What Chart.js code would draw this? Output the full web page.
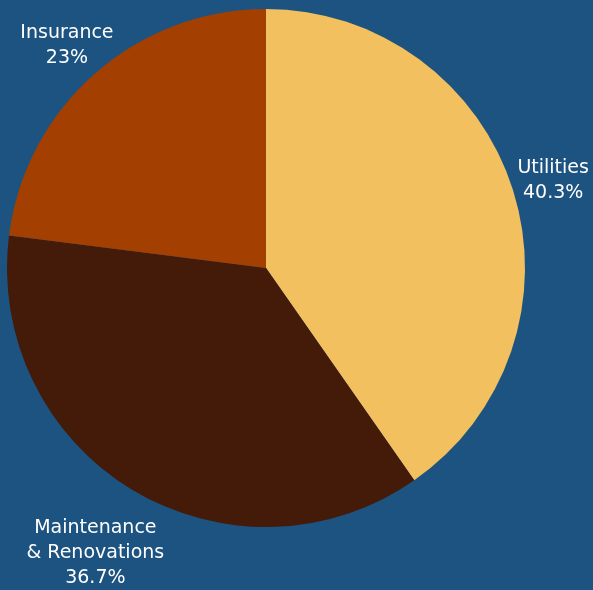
<!DOCTYPE html>
<html>
<head>
<meta charset="utf-8">
<script src="https://cdn.jsdelivr.net/npm/chart.js@4/dist/chart.umd.min.js"></script>
<style>
  html, body { margin: 0; padding: 0; background: #1c5380; }
  #wrap { width: 593px; height: 590px; position: relative; }
</style>
</head>
<body>
<div id="wrap"><canvas id="pieChart"></canvas></div>
<script>
const categories = ["Utilities", "Maintenance\n& Renovations", "Insurance"];
const shares = [40.3, 36.7, 23];
const sliceColors = ["#f2c05e", "#441a08", "#a33f00"];

// draws the category + percent text outside each slice
const outsideLabels = {
    id: "outsideLabels",
    afterDatasetsDraw(chart) {
        const ctx = chart.ctx;
        const meta = chart.getDatasetMeta(0);
        ctx.save();
        ctx.fillStyle = "#ffffff";
        ctx.font = "19px 'DejaVu Sans', sans-serif";
        ctx.textAlign = "center";
        ctx.textBaseline = "middle";
        const lh = 25;
        meta.data.forEach(function (arc, i) {
            const lines = categories[i].split("\n").concat([shares[i] + "%"]);
            const mid = (arc.startAngle + arc.endAngle) / 2;
            const dist = arc.outerRadius + 42 + (lines.length - 2) * 29;
            const x = arc.x + Math.cos(mid) * dist;
            const y = arc.y + Math.sin(mid) * dist + 3;
            const top = y - (lines.length - 1) * lh / 2;
            lines.forEach(function (line, j) {
                ctx.fillText(line, x, top + j * lh);
            });
        });
        ctx.restore();
    }
};

new Chart(document.getElementById("pieChart"), {
    type: "pie",
    data: {
        labels: categories,
        datasets: [{
            data: shares,
            backgroundColor: sliceColors,
            borderWidth: 0
        }]
    },
    options: {
        responsive: true,
        maintainAspectRatio: false,
        animation: false,
        layout: { padding: { left: 7, top: 9, right: 68, bottom: 63 } },
        plugins: {
            legend: { display: false },
            tooltip: { enabled: false }
        }
    },
    plugins: [outsideLabels]
});
</script>
</body>
</html>
